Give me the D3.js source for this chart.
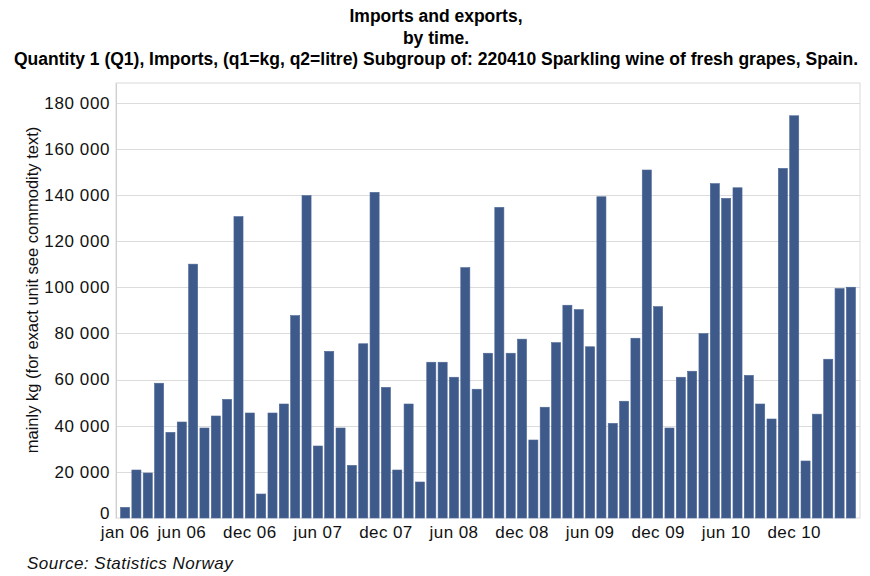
<!DOCTYPE html>
<html>
<head>
<meta charset="utf-8">
<script src="https://cdn.jsdelivr.net/npm/d3@7"></script>
<style>
  html, body { margin: 0; padding: 0; background: #ffffff; }
  svg { display: block; }
</style>
</head>
<body>
<svg id="chart" width="870" height="576"></svg>
<script>
// Monthly import quantities (kg), Jan 2006 – May 2011
const months = [
  "jan 06","feb 06","mar 06","apr 06","may 06","jun 06","jul 06","aug 06","sep 06","oct 06","nov 06","dec 06",
  "jan 07","feb 07","mar 07","apr 07","may 07","jun 07","jul 07","aug 07","sep 07","oct 07","nov 07","dec 07",
  "jan 08","feb 08","mar 08","apr 08","may 08","jun 08","jul 08","aug 08","sep 08","oct 08","nov 08","dec 08",
  "jan 09","feb 09","mar 09","apr 09","may 09","jun 09","jul 09","aug 09","sep 09","oct 09","nov 09","dec 09",
  "jan 10","feb 10","mar 10","apr 10","may 10","jun 10","jul 10","aug 10","sep 10","oct 10","nov 10","dec 10",
  "jan 11","feb 11","mar 11","apr 11","may 11"
];
const imports = [
  4600, 20800, 19500, 58400, 37100, 41600, 110000, 39000, 44200, 51400, 130600, 45500,
  10400, 45500, 49400, 87700, 139700, 31200, 72200, 39000, 22800, 75500, 141100, 56600,
  20800, 49400, 15600, 67500, 67500, 61000, 108500, 55800, 71400, 134600, 71400, 77500,
  33800, 48000, 76000, 92200, 90300, 74200, 139200, 41000, 50600, 77900, 150800, 91600,
  39000, 61000, 63600, 79900, 144900, 138500, 143100, 61800, 49400, 42900, 151500, 174300,
  24700, 45000, 68800, 99400, 100000
];
const xTickLabels = ["jan 06","jun 06","dec 06","jun 07","dec 07","jun 08","dec 08","jun 09","dec 09","jun 10","dec 10"];
const yTicks = [0, 20000, 40000, 60000, 80000, 100000, 120000, 140000, 160000, 180000];
const titleLines = [
  "Imports and exports,",
  "by time.",
  "Quantity 1 (Q1), Imports, (q1=kg, q2=litre) Subgroup of: 220410 Sparkling wine of fresh grapes, Spain."
];
const yAxisTitle = "mainly kg (for exact unit see commodity text)";
const sourceText = "Source: Statistics Norway";

const svg = d3.select("#chart");
const plot = { left: 116, right: 860, top: 83, bottom: 518 };
const baseFont = "'Liberation Sans', Arial, sans-serif";

const x = d3.scaleBand()
  .domain(months)
  .range([plot.left, plot.right])
  .paddingInner(0.2)
  .paddingOuter(0.4);

const y = d3.scaleLinear()
  .domain([0, 188500])
  .range([plot.bottom, plot.top]);

const fmt = v => d3.format(",")(v).replace(/,/g, " ");

// Titles
const titleBaselines = [22, 44, 65];
svg.append("g").selectAll("text")
  .data(titleLines)
  .join("text")
  .attr("x", 436)
  .attr("y", (d, i) => titleBaselines[i])
  .attr("text-anchor", "middle")
  .attr("font-family", baseFont)
  .attr("font-weight", "bold")
  .attr("font-size", 17.5)
  .attr("fill", "#000")
  .text(d => d);

// Plot frame
svg.append("rect")
  .attr("x", plot.left).attr("y", plot.top)
  .attr("width", plot.right - plot.left)
  .attr("height", plot.bottom - plot.top)
  .attr("fill", "#fff")
  .attr("stroke", "#d9d9d9")
  .attr("stroke-width", 1);

// Horizontal gridlines
svg.append("g")
  .selectAll("line")
  .data(yTicks.filter(d => d > 0))
  .join("line")
  .attr("x1", plot.left).attr("x2", plot.right)
  .attr("y1", d => Math.round(y(d)) + 0.5)
  .attr("y2", d => Math.round(y(d)) + 0.5)
  .attr("stroke", "#dcdcdc")
  .attr("stroke-width", 1.2);

// Y axis
const yAxis = d3.axisLeft(y)
  .tickValues(yTicks)
  .tickFormat(fmt)
  .tickSize(0)
  .tickPadding(6);
const gy = svg.append("g")
  .attr("transform", `translate(${plot.left},0)`)
  .call(yAxis);
gy.select(".domain").attr("stroke", "#cfcfcf");
gy.selectAll("text")
  .attr("font-family", baseFont)
  .attr("font-size", 17)
  .attr("letter-spacing", 0.6)
  .attr("fill", "#111");
// lift the zero label so it clears the month labels below
gy.selectAll(".tick")
  .filter(d => d === 0)
  .select("text")
  .attr("dy", "0em");

// Bars
svg.append("g")
  .selectAll("rect")
  .data(imports)
  .join("rect")
  .attr("x", (d, i) => x(months[i]))
  .attr("y", d => y(d))
  .attr("width", x.bandwidth())
  .attr("height", d => y(0) - y(d))
  .attr("fill", "#3e5a8a")
  .attr("stroke", "#4d6796")
  .attr("stroke-width", 0.6);

// X axis
const xAxis = d3.axisBottom(x)
  .tickValues(xTickLabels)
  .tickSize(0)
  .tickPadding(8);
const gx = svg.append("g")
  .attr("transform", `translate(0,${plot.bottom})`)
  .call(xAxis);
gx.select(".domain").remove();
gx.selectAll("text")
  .attr("font-family", baseFont)
  .attr("font-size", 17)
  .attr("letter-spacing", 0.4)
  .attr("fill", "#111");

// Y axis title
svg.append("text")
  .attr("transform", "translate(38,290) rotate(-90)")
  .attr("text-anchor", "middle")
  .attr("font-family", baseFont)
  .attr("font-size", 16.5)
  .attr("fill", "#111")
  .text(yAxisTitle);

// Source note
svg.append("text")
  .attr("x", 27).attr("y", 569)
  .attr("font-family", baseFont)
  .attr("font-style", "italic")
  .attr("font-size", 17)
  .attr("letter-spacing", 0.5)
  .attr("fill", "#111")
  .text(sourceText);
</script>
</body>
</html>
